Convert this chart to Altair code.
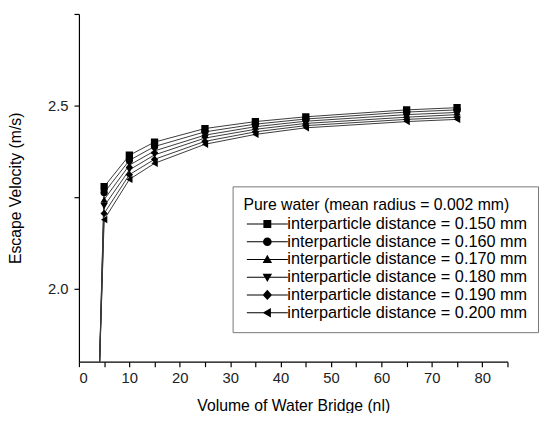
import altair as alt
import pandas as pd

volume = [4, 5, 10, 15, 25, 35, 45, 65, 75]
series_names = [
    "interparticle distance = 0.150 mm",
    "interparticle distance = 0.160 mm",
    "interparticle distance = 0.170 mm",
    "interparticle distance = 0.180 mm",
    "interparticle distance = 0.190 mm",
    "interparticle distance = 0.200 mm",
]
v150 = [1.75, 2.278, 2.364, 2.400, 2.437, 2.456, 2.469, 2.488, 2.494]
v160 = [1.75, 2.262, 2.350, 2.388, 2.428, 2.449, 2.463, 2.482, 2.488]
v170 = [1.75, 2.243, 2.337, 2.376, 2.419, 2.442, 2.457, 2.475, 2.481]
v180 = [1.75, 2.225, 2.324, 2.365, 2.411, 2.435, 2.451, 2.468, 2.475]
v190 = [1.75, 2.205, 2.311, 2.353, 2.402, 2.428, 2.445, 2.462, 2.468]
v200 = [1.75, 2.188, 2.298, 2.342, 2.394, 2.421, 2.439, 2.456, 2.462]
all_values = [v150, v160, v170, v180, v190, v200]

marker_shapes = ["square", "circle", "triangle-up", "triangle-down", "diamond", "triangle-left"]
# legend symbols: a thin bar (the line) plus the marker, all wound clockwise
bar = "M-2.6,-0.065H2.6V0.065H-2.6Z"
legend_paths = [
    bar + "M-0.5,-0.5H0.5V0.5H-0.5Z",
    bar + "M0.55,0A0.55,0.55 0 1,1 -0.55,0A0.55,0.55 0 1,1 0.55,0Z",
    bar + "M0,-0.6L0.6,0.45L-0.6,0.45Z",
    bar + "M0,0.6L-0.6,-0.45L0.6,-0.45Z",
    bar + "M0,-0.65L0.6,0L0,0.65L-0.6,0Z",
    bar + "M-0.6,0L0.45,-0.6L0.45,0.6Z",
]

rows = []
for name, vals in zip(series_names, all_values):
    for xv, yv in zip(volume, vals):
        rows.append({"volume": xv, "velocity": yv, "series": name})
df = pd.DataFrame(rows)

font = "Liberation Sans"

x_enc = alt.X(
    "volume:Q",
    scale=alt.Scale(domain=[0, 85], nice=False, zero=False),
    axis=alt.Axis(
        title="Volume of Water Bridge (nl)",
        values=list(range(0, 90, 5)),
        labelExpr="datum.value % 10 == 0 ? datum.label : ''",
        format="d",
        grid=False,
    ),
)
y_enc = alt.Y(
    "velocity:Q",
    scale=alt.Scale(domain=[1.8, 2.75], nice=False, zero=False),
    axis=alt.Axis(
        title="Escape Velocity (m/s)",
        values=[2.0, 2.25, 2.5, 2.75],
        labelExpr="(datum.value == 2 || datum.value == 2.5) ? format(datum.value, '.1f') : ''",
        grid=False,
    ),
)

lines = alt.Chart(df).mark_line(color="#3a3a3a", strokeWidth=1, clip=True).encode(
    x=x_enc, y=y_enc, detail="series:N"
)

points = alt.Chart(df).mark_point(filled=True, color="black", size=55, opacity=1, clip=True).encode(
    x=x_enc,
    y=y_enc,
    shape=alt.Shape("series:N", scale=alt.Scale(domain=series_names, range=marker_shapes), legend=None),
)

legend_layer = alt.Chart(df).transform_filter("false").mark_point(
    filled=True, color="black", opacity=1
).encode(
    x=x_enc,
    y=y_enc,
    shape=alt.Shape(
        "series:N",
        scale=alt.Scale(domain=series_names, range=legend_paths),
        legend=alt.Legend(
            title="Pure water (mean radius = 0.002 mm)",
            orient="none",
            legendX=156,
            legendY=175,
            padding=11,
            strokeColor="#777777",
            fillColor="white",
            symbolSize=256,
            symbolFillColor="black",
            symbolStrokeWidth=0,
            symbolOpacity=1,
            symbolOffset=16,
            labelOffset=12,
            rowPadding=1,
            titlePadding=3,
            titleFont=font,
            titleFontSize=16,
            titleFontWeight="normal",
            titleColor="black",
            titleLimit=400,
            labelFont=font,
            labelFontSize=16.5,
            labelColor="black",
            labelLimit=400,
        ),
    ),
)

chart = alt.layer(lines, points, legend_layer).resolve_scale(shape="independent").properties(
    width=435,
    height=353,
    autosize=alt.AutoSizeParams(type="none"),
    padding={"left": 72, "top": 3, "right": 32, "bottom": 49},
).configure_view(stroke=None).configure_axis(
    domainColor="black",
    domainWidth=1.2,
    tickColor="black",
    tickWidth=1.2,
    tickSize=5,
    labelFont=font,
    labelFontSize=15,
    labelColor="#222222",
    titleFont=font,
    titleFontSize=16,
    titleFontWeight="normal",
    titleColor="black",
).configure_axisX(
    labelPadding=4, titlePadding=13
).configure_axisY(
    labelPadding=6, titlePadding=24
)

chart.save("out.html", embed_options={"renderer": "svg", "actions": False})
